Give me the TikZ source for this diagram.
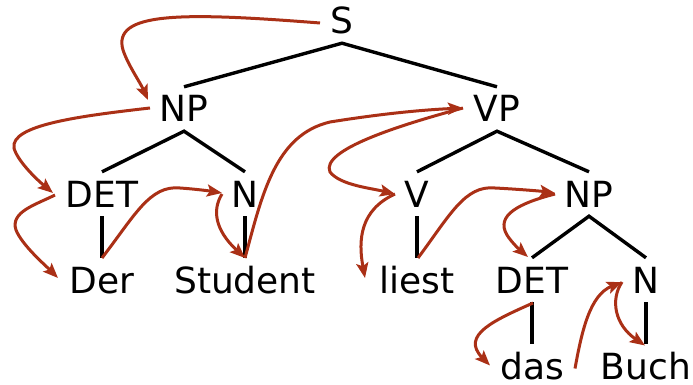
\documentclass[tikz,border=0pt]{standalone}
\usepackage{fontspec}
\setmainfont{DejaVu Sans}
\usetikzlibrary{arrows.meta,calc}
\definecolor{arr}{RGB}{170,48,22}
\begin{document}
\begin{tikzpicture}[x=1pt,y=-1pt,
  lab/.style={anchor=base, inner xsep=0pt, inner ysep=9pt, text height=26pt, text depth=0pt, font=\fontsize{36}{40}\selectfont},
  leaf/.style={lab, inner ysep=0pt, text height=35pt},
  tree/.style={line width=3.4pt, line join=miter},
  walk/.style={draw=arr, line width=3pt, -{Stealth[length=15pt,width=12pt,inset=3pt]}}]
\useasboundingbox (0,0) rectangle (693,385);
\node[lab] (S) at (342,34) {S};
\node[lab] (NP) at (184,122) {NP};
\node[lab] (VP) at (497,122) {VP};
\node[lab] (DET) at (102,207) {DET};
\node[lab] (N) at (245,207) {N};
\node[lab] (V) at (417,207) {V};
\node[lab] (NPb) at (589,207) {NP};
\node[lab] (Der) at (102,293) {Der};
\node[lab] (Stu) at (245,293) {Student};
\node[lab] (liest) at (417,293) {liest};
\node[lab] (DETb) at (532,293) {DET};
\node[lab] (Nb) at (646,293) {N};
\node[leaf] (das) at (532,379) {das};
\node[leaf] (Buch) at (646,379) {Buch};
% tree
\draw[tree] (NP.north) -- (S.south) -- (VP.north);
\draw[tree] (DET.north) -- (NP.south) -- (N.north);
\draw[tree] (V.north) -- (VP.south) -- (NPb.north);
\draw[tree] (DETb.north) -- (NPb.south) -- (Nb.north);
\draw[tree] (DET.south) -- (Der.north);
\draw[tree] (N.south) -- (Stu.north);
\draw[tree] (V.south) -- (liest.north);
\draw[tree] (DETb.south) -- (das.north);
\draw[tree] (Nb.south) -- (Buch.north);
% walk
\draw[walk] ($(S.center)+(-22,2)$) .. controls (180,12) and (112,12) .. (123,50) .. controls (128,65) and (140,82) .. ($(NP.center)+(-36,-9)$);
\draw[walk] ($(NP.center)+(-34,-1)$) .. controls (80,116) and (10,125) .. (14,148) .. controls (17,160) and (35,178) .. ($(DET.center)+(-49,-1)$);
\draw[walk] ($(DET.center)+(-47,1)$) .. controls (35,205) and (10,212) .. (16,230) .. controls (22,245) and (45,265) .. ($(Der.center)+(-44,-2)$);
\draw[walk] ($(Der.center)+(0,-22)$) .. controls (135,215) and (150,185) .. (180,188) .. controls (195,189) and (210,191) .. ($(N.center)+(-23,-1)$);
\draw[walk] ($(N.center)+(-23,0)$) .. controls (212,210) and (215,230) .. ($(Stu.center)+(0,-22)$);
\draw[walk] ($(Stu.center)+(0,-22)$) .. controls (262,195) and (275,135) .. (330,122) .. controls (380,114) and (420,110) .. ($(VP.center)+(-34,-1)$);
\draw[walk] ($(VP.center)+(-34,-1)$) .. controls (400,125) and (320,150) .. (330,172) .. controls (340,185) and (370,188) .. ($(V.center)+(-22,0)$);
\draw[walk] ($(V.center)+(-22,0)$) .. controls (360,210) and (358,240) .. ($(liest.center)+(-52,-2)$);
\draw[walk] ($(liest.center)+(1,-22)$) .. controls (450,215) and (465,185) .. (495,188) .. controls (515,189) and (540,191) .. ($(NPb.center)+(-34,-1)$);
\draw[walk] ($(NPb.center)+(-34,0)$) .. controls (520,203) and (495,215) .. (507,235) .. controls (512,243) and (520,250) .. ($(DETb.center)+(-4,-23)$);
\draw[walk] ($(DETb.center)+(1,23)$) .. controls (495,320) and (460,335) .. ($(das.center)+(-42,4)$);
\draw[walk] ($(das.center)+(43,7)$) .. controls (582,330) and (590,295) .. ($(Nb.center)+(-24,2)$);
\draw[walk] ($(Nb.center)+(-24,2)$) .. controls (610,300) and (615,325) .. ($(Buch.center)+(-1,-16)$);
\end{tikzpicture}
\end{document}
